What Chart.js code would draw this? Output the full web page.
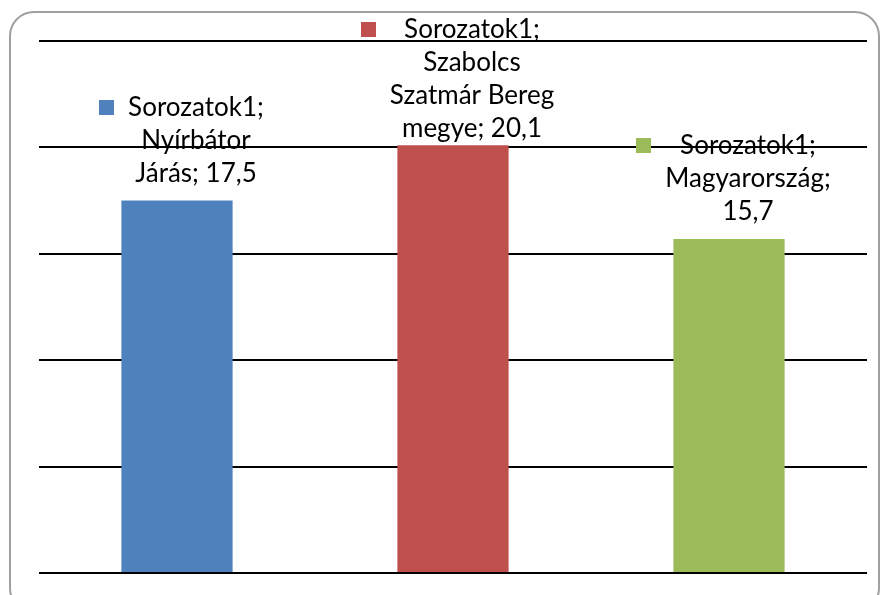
<!DOCTYPE html>
<html>
<head>
<meta charset="utf-8">
<script src="https://cdn.jsdelivr.net/npm/chart.js@4.4.1/dist/chart.umd.min.js"></script>
<style>
  html, body { margin: 0; padding: 0; background: #fff; overflow: hidden; }
  #wrap { width: 881px; height: 595px; position: relative; }
</style>
</head>
<body>
<div id="wrap"><canvas id="chart" width="881" height="595"></canvas></div>
<script>
// Data
const seriesName = "Sorozatok1";
const categories = [["Nyírbátor", "Járás"], ["Szabolcs", "Szatmár Bereg", "megye"], ["Magyarország"]];
const values = [17.5, 20.1, 15.7];
const barColors = ["#4F81BD", "#C0504D", "#9BBB59"];
const yMin = 0;
const yMax = 25;
const yStep = 5;

const LABEL_FONT = "26px Lato";
const LINE_H = 33;

// Rounded frame around the whole chart
const framePlugin = {
  id: "frame",
  beforeDraw(chart) {
    const ctx = chart.ctx;
    ctx.save();
    ctx.strokeStyle = "#a0a0a0";
    ctx.lineWidth = 2;
    ctx.beginPath();
    ctx.roundRect(10, 12, 869, 600, 24);
    ctx.stroke();
    ctx.restore();
  },
};

// Data labels with legend key, Excel style
const labelPlugin = {
  id: "barLabels",
  afterDatasetsDraw(chart) {
    const ctx = chart.ctx;
    const meta = chart.getDatasetMeta(0);
    ctx.save();
    ctx.font = LABEL_FONT;
    ctx.textAlign = "center";
    ctx.textBaseline = "alphabetic";

    meta.data.forEach((bar, i) => {
      const lines = [seriesName + ";", ...categories[i]];
      const valText = values[i].toFixed(1).replace(".", ",");
      const lastIdx = lines.length - 1;
      const joined = lines[lastIdx] + "; " + valText;
      if (ctx.measureText(joined).width <= 165) {
        lines[lastIdx] = joined;
      } else {
        lines[lastIdx] += ";";
        lines.push(valText);
      }

      const cx = bar.x + 19;
      let first = bar.y - 19 - (lines.length - 1) * LINE_H;
      if (first < 38) first = 38;

      ctx.fillStyle = "#000";
      lines.forEach((t, j) => ctx.fillText(t, cx, first + j * LINE_H));

      const w = Math.max(...lines.map((t) => ctx.measureText(t).width));
      ctx.fillStyle = barColors[i];
      ctx.fillRect(Math.round(cx - w / 2 - 29), Math.round(first - 16), 15, 15);
    });
    ctx.restore();
  },
};

new Chart(document.getElementById("chart"), {
  type: "bar",
  data: {
    labels: categories,
    datasets: [
      {
        label: seriesName,
        data: values,
        backgroundColor: barColors,
        borderWidth: 0,
        categoryPercentage: 1,
        barPercentage: 0.403,
      },
    ],
  },
  options: {
    responsive: false,
    animation: false,
    devicePixelRatio: 1,
    layout: { padding: { left: 39, right: 14, top: 41, bottom: 22 } },
    plugins: {
      legend: { display: false },
      tooltip: { enabled: false },
    },
    scales: {
      x: { display: false },
      y: {
        min: yMin,
        max: yMax,
        ticks: { stepSize: yStep, display: false },
        border: { display: false },
        grid: { color: "#000", lineWidth: 2, drawTicks: false },
      },
    },
  },
  plugins: [framePlugin, labelPlugin],
});
</script>
</body>
</html>
